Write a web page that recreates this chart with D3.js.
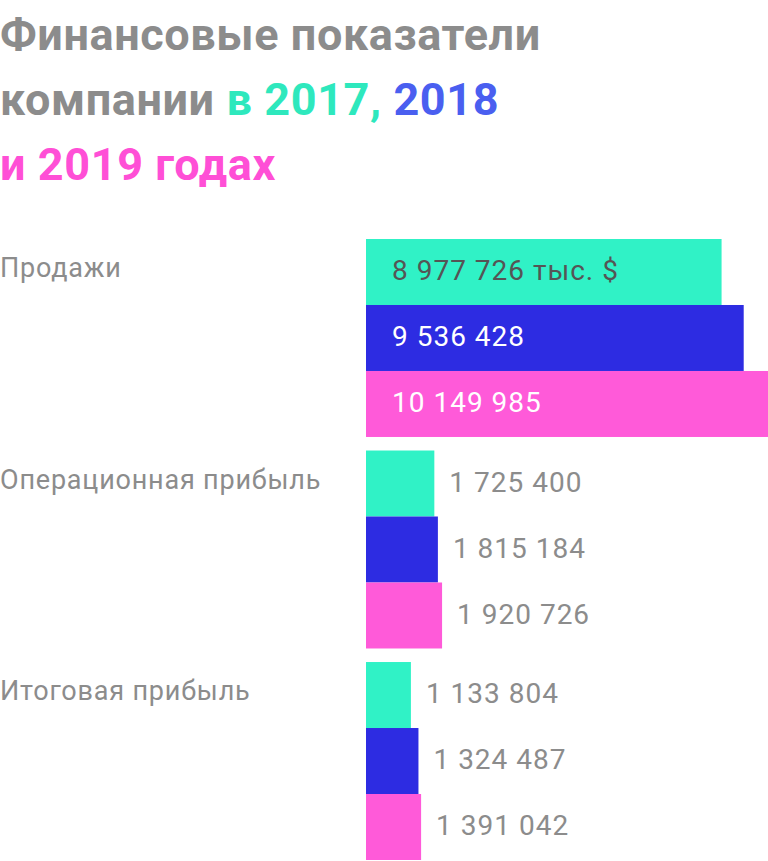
<!DOCTYPE html>
<html><head><meta charset="utf-8">
<script src="https://cdn.jsdelivr.net/npm/d3@7"></script>
<style>body{margin:0;background:#fff;}svg{display:block;font-family:Roboto,"Noto Sans",sans-serif;}</style>
</head><body><svg id="c" width="768" height="861"></svg>
<script>
const categories = ["Продажи", "Операционная прибыль", "Итоговая прибыль"];
const years = ["2017", "2018", "2019"];
const values2017 = [8977726, 1725400, 1133804];
const values2018 = [9536428, 1815184, 1324487];
const values2019 = [10149985, 1920726, 1391042];
const valueLabels = [
  ["8 977 726 тыс. $", "9 536 428", "10 149 985"],
  ["1 725 400", "1 815 184", "1 920 726"],
  ["1 133 804", "1 324 487", "1 391 042"]
];
const barColors = ["#30f2c6", "#2d2ce2", "#ff5ad9"];
const titleColors = ["#2ee8bd", "#4a5ff0", "#ff4fd6"];
const series = [values2017, values2018, values2019];

const svg = d3.select("#c");
const gray = "#8c8c8c";
const t = svg.append("g").attr("font-weight", 700).attr("font-size", 45).attr("letter-spacing", 0.6).attr("fill", gray);
t.append("text").attr("x", 0).attr("y", 50).text("Финансовые показатели");
const l2 = t.append("text").attr("x", 0).attr("y", 115);
l2.append("tspan").text("компании ");
l2.append("tspan").attr("fill", titleColors[0]).text("в 2017, ");
l2.append("tspan").attr("fill", titleColors[1]).text("2018");
t.append("text").attr("x", 0).attr("y", 180).attr("fill", titleColors[2]).text("и 2019 годах");

const x = d3.scaleLinear().domain([0, d3.max(values2019)]).range([366, 768]);
const yGroup = d3.scaleBand().domain(categories).range([239, 860]).paddingInner(0.064).paddingOuter(0);
const ySub = d3.scaleBand().domain(years).range([0, yGroup.bandwidth()]);

categories.forEach((cat, i) => {
  const g = svg.append("g").attr("transform", `translate(0,${yGroup(cat)})`);
  g.append("text").attr("x", 0).attr("y", ySub("2017") + ySub.bandwidth()/2 - 2)
    .attr("dominant-baseline", "middle").attr("font-size", 27).attr("letter-spacing", 0.8)
    .attr("fill", gray).text(cat);
  years.forEach((yr, j) => {
    const v = series[j][i];
    g.append("rect").attr("x", x(0)).attr("y", ySub(yr)).attr("width", x(v) - x(0))
      .attr("height", ySub.bandwidth()).attr("fill", barColors[j]);
    const inside = i === 0;
    g.append("text")
      .attr("x", inside ? x(0) + 26 : x(v) + 15)
      .attr("y", ySub(yr) + ySub.bandwidth()/2 + 1)
      .attr("dominant-baseline", "middle").attr("font-size", 28).attr("letter-spacing", 1)
      .attr("fill", inside ? (j === 0 ? "#555" : "#fff") : gray)
      .text(valueLabels[i][j]);
  });
});
</script></body></html>
